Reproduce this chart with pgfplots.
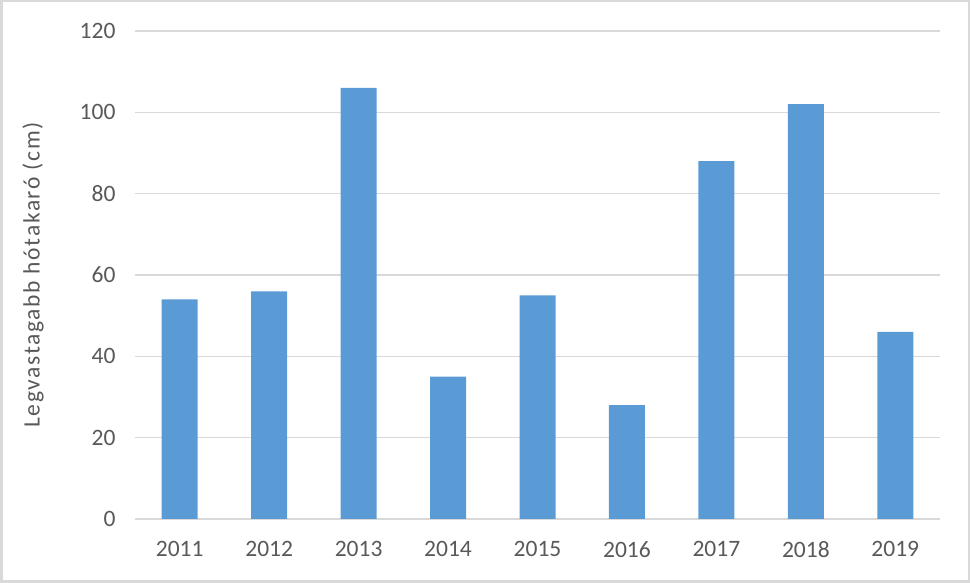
\documentclass[border=0pt]{standalone}
\usepackage{pgfplots}
\pgfplotsset{compat=1.18}
\usepackage{fontspec}
\setmainfont{Carlito}
\definecolor{barblue}{HTML}{5B9BD5}
\definecolor{gridgray}{HTML}{D9D9D9}
\definecolor{txtgray}{HTML}{595959}
\begin{document}
\begin{tikzpicture}[x=1bp,y=1bp]
\useasboundingbox (0,0) rectangle (970,583);
\draw[gridgray, line width=2.5bp] (1.25,1.25) rectangle (968.75,581.75);
\begin{axis}[
  at={(135bp,64bp)}, anchor=south west,
  scale only axis, width=805bp, height=488bp,
  xmin=-0.5, xmax=8.5, ymin=0, ymax=120,
  ytick={0,20,...,120},
  xtick={0,...,8},
  xticklabels={2011,2012,2013,2014,2015,2016,2017,2018,2019},
  ymajorgrids, grid style={gridgray, line width=1.2bp},
  axis x line*=bottom, axis y line*=left,
  x axis line style={gridgray, line width=1.2bp, -},
  y axis line style={draw=none},
  major tick length=0pt,
  tick label style={font=\fontsize{23.5bp}{27bp}\selectfont, text=txtgray},
  /pgf/number format/assume math mode=true,
  yticklabel style={xshift=-16bp},
  xticklabel style={yshift=-19bp},
  ylabel={Legvastagabb hótakaró (cm)},
  ylabel style={at={(axis description cs:-0.1267,0.5)}, anchor=center, rotate=0,
    font=\fontsize{23.5bp}{27bp}\selectfont\addfontfeatures{LetterSpace=7}, text=txtgray},
]
\addplot[ybar, bar width=36bp, fill=barblue, draw=none] coordinates {
(0,54) (1,56) (2,106) (3,35) (4,55) (5,28) (6,88) (7,102) (8,46)};
\end{axis}
\end{tikzpicture}
\end{document}
